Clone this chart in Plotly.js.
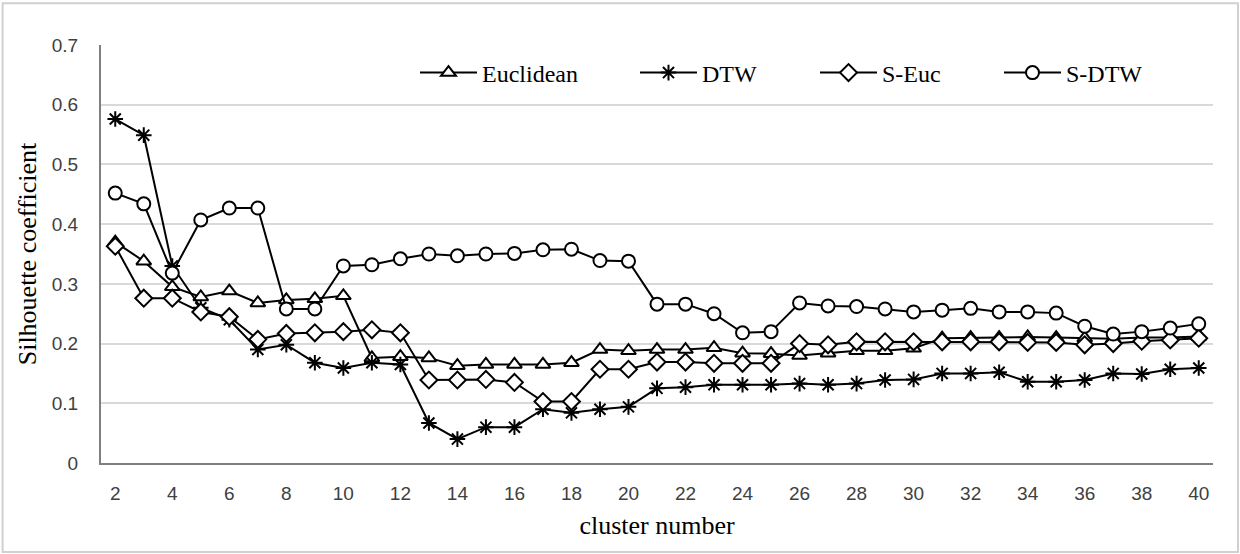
<!DOCTYPE html>
<html>
<head>
<meta charset="utf-8">
<script src="https://cdn.plot.ly/plotly-3.0.1.min.js"></script>
<style>html,body{margin:0;padding:0;background:#fff;}#chart{width:1240px;height:554px;}</style>
</head>
<body>
<div id="chart"></div>
<script>
const clusters = [2,3,4,5,6,7,8,9,10,11,12,13,14,15,16,17,18,19,20,21,22,23,24,25,26,27,28,29,30,31,32,33,34,35,36,37,38,39,40];
const euclidean = [0.37,0.338,0.295,0.278,0.288,0.268,0.273,0.275,0.28,0.176,0.178,0.176,0.163,0.165,0.165,0.165,0.168,0.19,0.188,0.19,0.19,0.193,0.184,0.183,0.18,0.184,0.188,0.188,0.192,0.209,0.21,0.21,0.211,0.21,0.209,0.208,0.21,0.21,0.212];
const dtw = [0.576,0.549,0.33,0.26,0.24,0.19,0.198,0.168,0.159,0.168,0.165,0.067,0.04,0.06,0.06,0.09,0.084,0.09,0.094,0.125,0.127,0.131,0.131,0.131,0.133,0.131,0.133,0.139,0.14,0.15,0.15,0.152,0.136,0.136,0.139,0.15,0.149,0.157,0.159];
const sEuc = [0.363,0.276,0.276,0.253,0.245,0.207,0.217,0.218,0.22,0.223,0.218,0.139,0.139,0.14,0.135,0.103,0.103,0.157,0.157,0.169,0.169,0.167,0.167,0.167,0.2,0.198,0.203,0.203,0.203,0.203,0.203,0.203,0.202,0.202,0.198,0.2,0.204,0.206,0.209];
const sDtw = [0.452,0.434,0.318,0.407,0.427,0.427,0.258,0.258,0.33,0.332,0.342,0.35,0.347,0.35,0.351,0.357,0.358,0.339,0.338,0.266,0.266,0.25,0.218,0.22,0.268,0.263,0.262,0.258,0.253,0.256,0.259,0.253,0.253,0.251,0.229,0.216,0.22,0.226,0.233];
const seriesNames = ['Euclidean','DTW','S-Euc','S-DTW'];
const xTicks = [2,4,6,8,10,12,14,16,18,20,22,24,26,28,30,32,34,36,38,40];
const yTicks = [0,0.1,0.2,0.3,0.4,0.5,0.6,0.7];

const serif = '"Liberation Serif", "Times New Roman", serif';
const sans = '"Liberation Sans", Arial, sans-serif';

function tr(name, y, symbol, size, legendId, fill){
  return {x: clusters, y: y, name: name, type:'scatter', mode:'lines+markers', legend: legendId,
    line:{color:'#000', width:2},
    marker:{symbol: symbol, size: size, color: fill, line:{color:'#000', width:2}}};
}
const data = [
  tr(seriesNames[0], euclidean, 'triangle-up', 13, 'legend', '#fff'),
  tr(seriesNames[1], dtw, 'asterisk', 13, 'legend2', '#000'),
  tr(seriesNames[2], sEuc, 'diamond', 13, 'legend3', '#fff'),
  tr(seriesNames[3], sDtw, 'circle', 13, 'legend4', '#fff')
];
function leg(xpx){
  return {orientation:'h', x:(xpx-101)/1112, y:0.933, xanchor:'left', yanchor:'middle',
    font:{family:serif, size:24, color:'#000'}, itemwidth:57, bgcolor:'rgba(0,0,0,0)', borderwidth:0};
}
const layout = {
  width:1240, height:554,
  margin:{l:101, r:27, t:45, b:91},
  paper_bgcolor:'#fff', plot_bgcolor:'#fff',
  font:{family:serif, color:'#000'},
  showlegend:true,
  legend: leg(415), legend2: leg(635), legend3: leg(815), legend4: leg(999),
  xaxis:{range:[1.5,40.5], tickvals:xTicks, ticktext:xTicks.map(String),
    showgrid:false, showline:true, linecolor:'#7f7f7f', linewidth:2, zeroline:false,
    ticks:'', ticklabelstandoff:12, tickfont:{family:sans, size:19, color:'#404040'},
    title:{text:'cluster number', font:{family:serif, size:26, color:'#000'}, standoff:13}},
  yaxis:{range:[0,0.7], tickvals:yTicks, ticktext:yTicks.map(v=>String(v)),
    showgrid:true, gridcolor:'#d9d9d9', gridwidth:2, showline:true, linecolor:'#7f7f7f', linewidth:2, zeroline:false,
    ticks:'', ticklabelstandoff:17, tickfont:{family:sans, size:19, color:'#404040'},
    title:{text:'Silhouette coefficient', font:{family:serif, size:26, color:'#000'}, standoff:8}},
  shapes:[{type:'rect', xref:'paper', yref:'paper', x0:-0.0885, x1:1.0225, y0:-0.213, y1:1.1, line:{color:'#d0d0d0', width:2}}]
};
Plotly.newPlot('chart', data, layout, {staticPlot:true});
</script>
</body>
</html>
